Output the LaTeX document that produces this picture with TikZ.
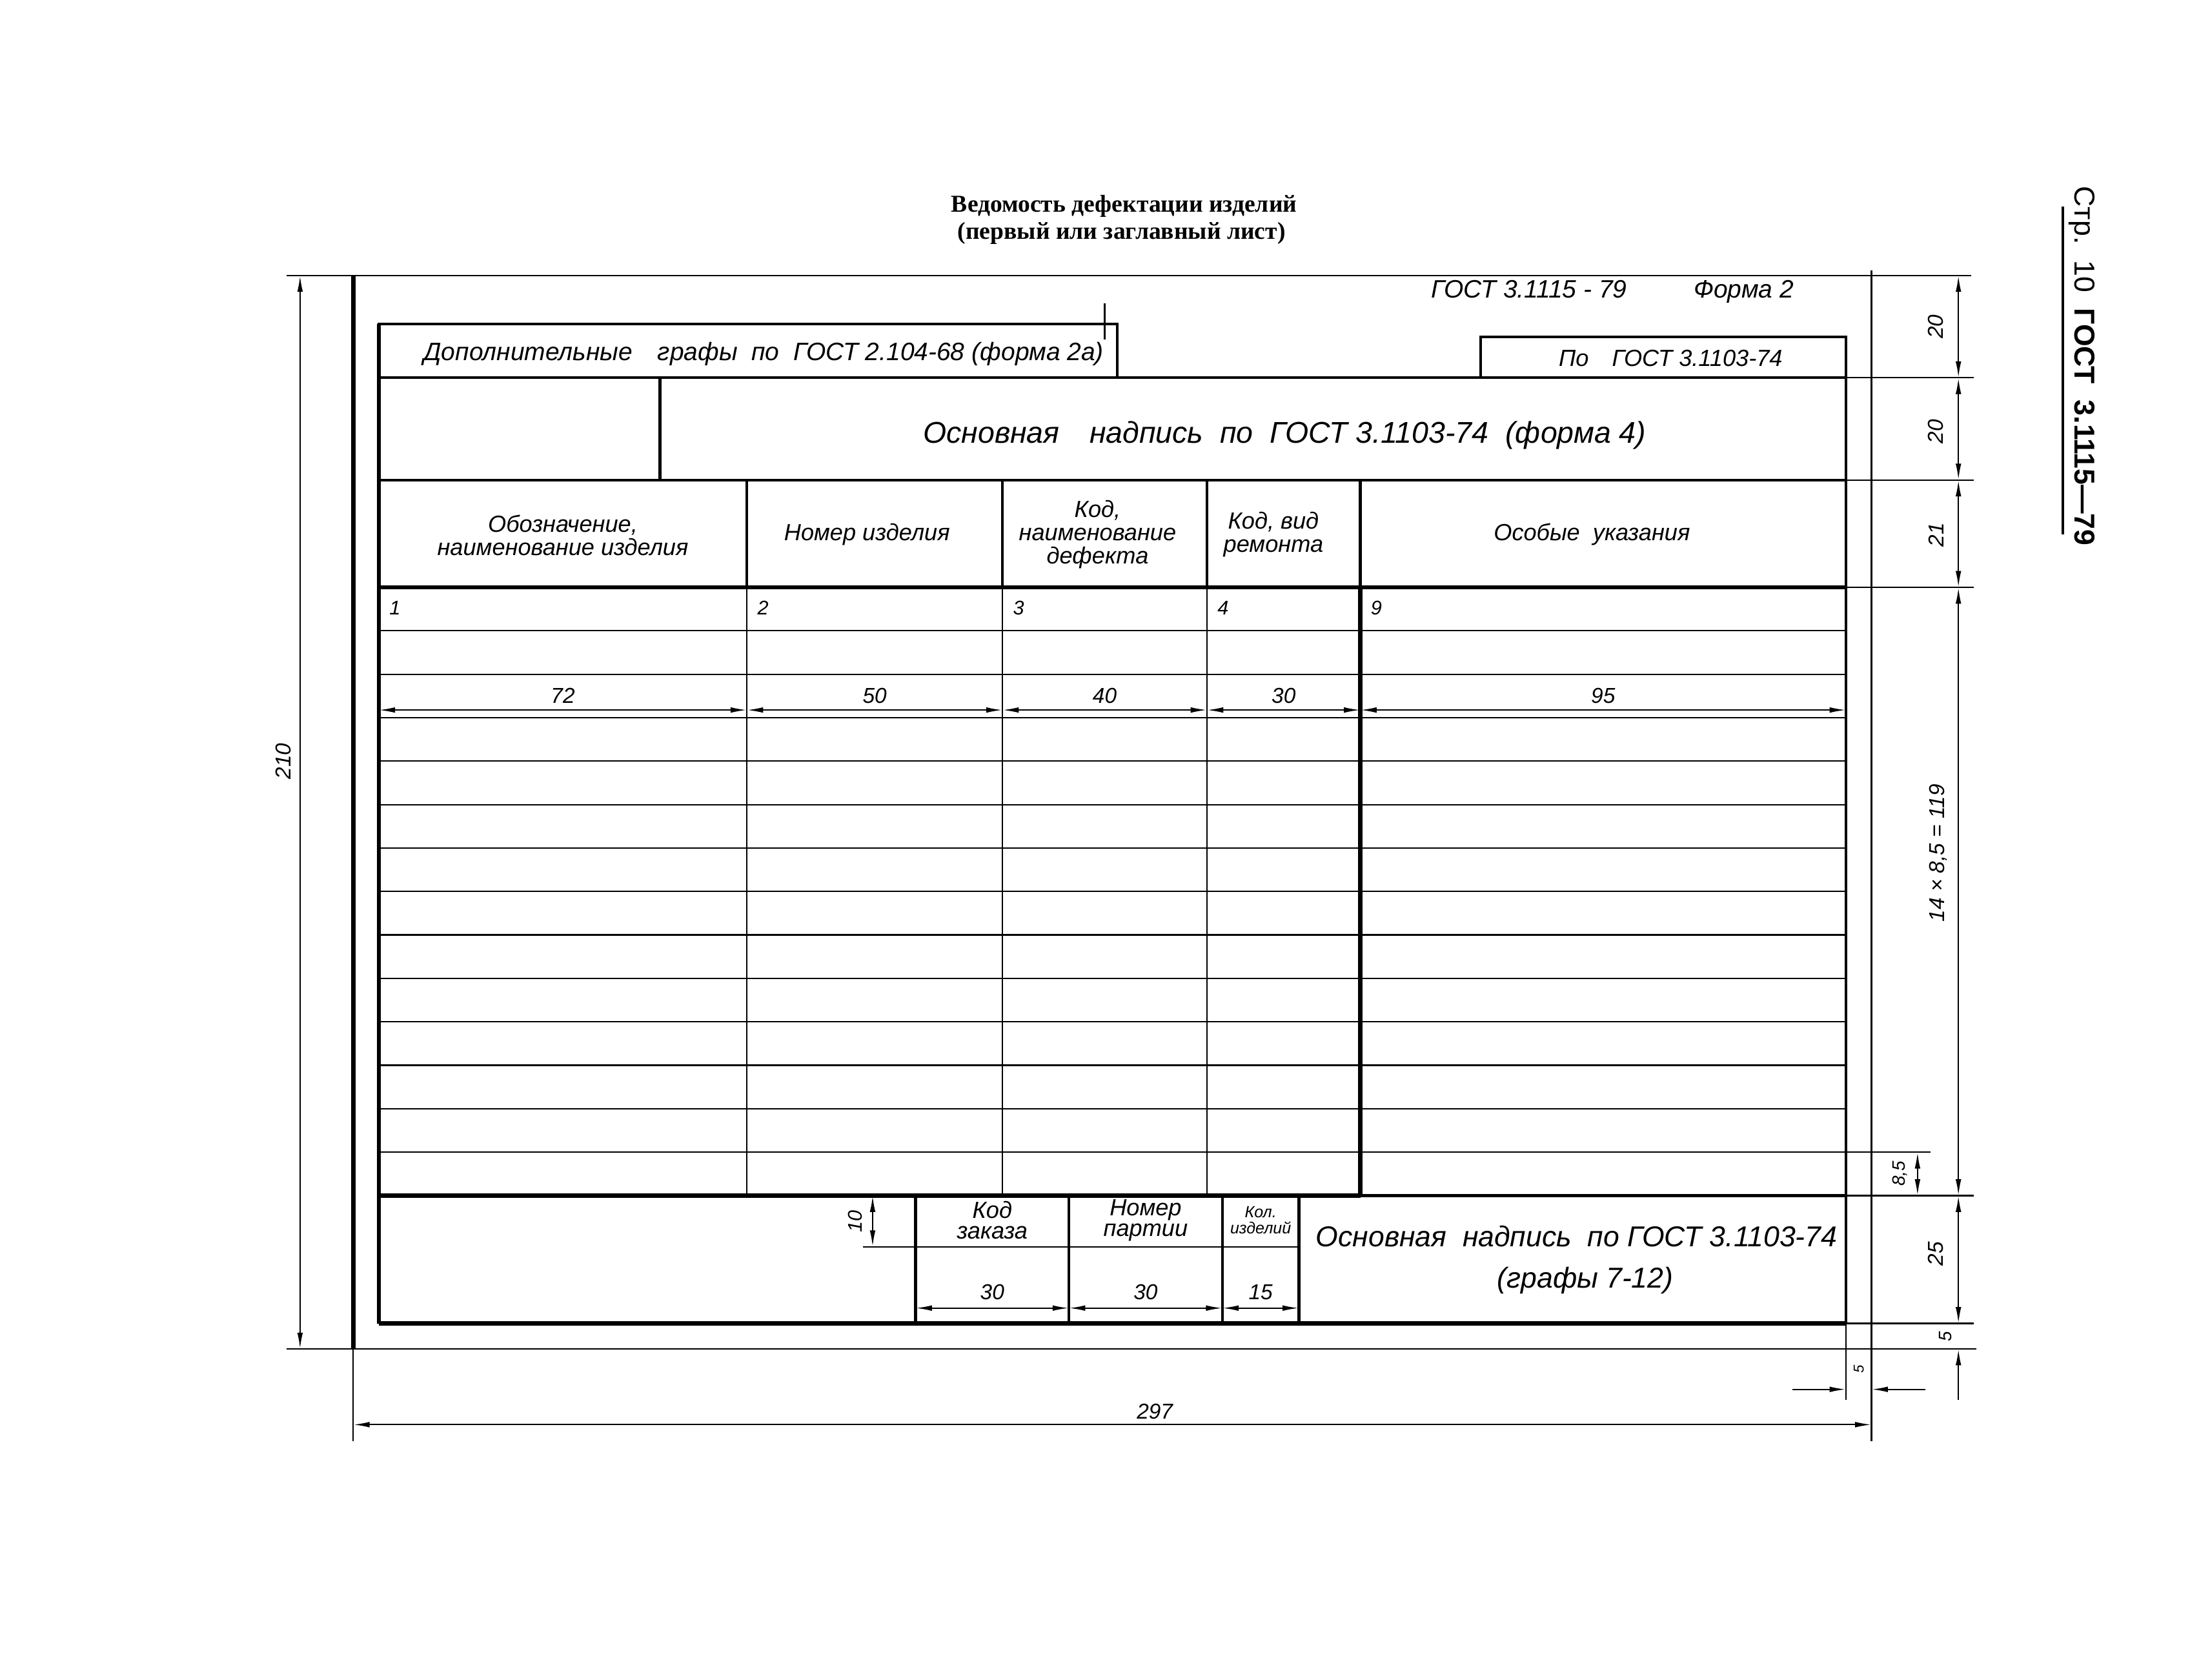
\documentclass[tikz,border=0pt]{standalone}
\usepackage{fontspec}
\setmainfont{Liberation Sans}
\newfontfamily\gostfont{Liberation Sans}
\newfontfamily\titlefont{Liberation Serif}
\usetikzlibrary{arrows.meta}

\tikzset{
  frm/.style={line width=0.8pt},
  med/.style={line width=1.5pt},
  thk/.style={line width=2.4pt},
  dimline/.style={line width=0.8pt,<->},
  arr/.style={line width=0.8pt,->},
  lbl/.style={font=\gostfont\itshape\fontsize{#1}{#1}\selectfont,inner sep=0pt,align=center},
  lbl/.default=13.5,
  ttl/.style={font=\titlefont\bfseries\fontsize{13.5}{14}\selectfont,inner sep=0pt},
  pg/.style={font=\gostfont\fontsize{16}{16}\selectfont,inner sep=0pt}
}

\begin{document}
\begin{tikzpicture}[x=1mm,y=1mm,>={Latex[length=3.2mm,width=1.1mm]}]
\useasboundingbox (-69.1,-64.75) rectangle (359.3,263.9);

\node[ttl] (title1) at (150.8,223.5) {Ведомость дефектации изделий};
\node[ttl] (title2) at (150.3,218.3) {(первый или заглавный лист)};
\node[pg,rotate=-90] (pageno) at (338.2,192.3) {Стр.\ \ 10\ \ \textbf{ГОСТ\ \ 3.1115—79}};
\draw[med] (334.4,223.5) -- (334.4,159.3);

\draw[thk] (0,0) -- (0,210);
\draw[frm] (-13,210) -- (316.5,210);
\draw[frm] (-13,0) -- (317.5,0);
\draw[frm] (297,211) -- (297,-18);
\draw[frm] (0,0) -- (0,-18);

\draw[dimline] (-10.4,0) -- (-10.4,210);
\node[lbl=12,rotate=90] (d210) at (-13.7,115) {210};
\draw[dimline] (0,-14.8) -- (297,-14.8);
\node[lbl=12] (d297) at (156.8,-12.2) {297};

\foreach \y in {190,170,149,30,5} \draw[frm] (292,\y) -- (317,\y);
\draw[frm] (292,38.5) -- (308.5,38.5);
\draw[dimline] (314,210) -- (314,190);
\draw[dimline] (314,190) -- (314,170);
\draw[dimline] (314,170) -- (314,149);
\draw[dimline] (314,149) -- (314,30);
\draw[dimline] (314,30) -- (314,5);
\draw[arr] (314,-10) -- (314,0);
\node[lbl=12,rotate=90] (r20a) at (309.6,200) {20};
\node[lbl=12,rotate=90] (r20b) at (309.6,179.5) {20};
\node[lbl=12,rotate=90] (r21) at (309.6,159.3) {21};
\node[lbl=12,rotate=90] (r119) at (310,97) {14 × 8,5 = 119};
\node[lbl=12,rotate=90] (r25) at (309.6,18.6) {25};
\node[lbl=10,rotate=90] (r5) at (311.4,2.5) {5};
\draw[dimline] (306,30) -- (306,38.5);
\node[lbl=10,rotate=90] (r85) at (302.6,34.3) {8,5};
\draw[frm] (292,5) -- (292,-10);
\draw[arr] (281.5,-7.9) -- (292,-7.9);
\draw[arr] (307.5,-7.9) -- (297,-7.9);
\node[lbl=8,rotate=90] (b5) at (294.5,-4) {5};

\node[lbl=14,anchor=base] (gost) at (230,205.6) {ГОСТ\ 3.1115 - 79};
\node[lbl=14,anchor=base] (forma) at (272,205.6) {Форма 2};

\draw[med] (5,190) rectangle (149.5,200.5);
\draw[frm] (147,204.5) -- (147,197.5);
\node[lbl=14] (dop) at (80.3,194.6) {Дополнительные\quad графы\ \ по\ \ ГОСТ 2.104-68 (форма 2а)};
\draw[med] (220.5,190) rectangle (292,198);
\node[lbl=13] (pogost) at (257.7,193.8) {По\quad ГОСТ 3.1103-74};

\draw[med] (5,170) rectangle (292,190);
\draw[med] (60,170) -- (60,190);
\node[lbl=16.7] (osn) at (182.2,178.7) {Основная\quad надпись\ \ по\ \ ГОСТ 3.1103-74\ \ (форма 4)};

\draw[med] (5,149) rectangle (292,170);
\foreach \x in {77,127,167,197} \draw[med] (\x,149) -- (\x,170);
\node[lbl=13] (h1) at (41,159.2) {Обозначение,\\наименование изделия};
\node[lbl=13] (h2) at (100.5,159.3) {Номер изделия};
\node[lbl=13] (h3) at (145.6,159.3) {Код,\\наименование\\дефекта};
\node[lbl=13] (h4) at (180,159.3) {Код, вид\\ремонта};
\node[lbl=13] (h5) at (242.3,159.3) {Особые\ \ указания};

\foreach \k in {1,...,13} \draw[frm] (5,149-8.5*\k) -- (292,149-8.5*\k);
\foreach \x in {77,127,167} \draw[frm] (\x,149) -- (\x,30);
\draw[thk] (5,149) -- (292,149);
\draw[thk] (197,149) -- (197,30);
\draw[thk] (5,30) -- (197,30);
\draw[med] (197,30) -- (292,30);
\draw[med] (292,198) -- (292,5);
\draw[thk] (5,5) -- (292,5);
\draw[thk] (5,5) -- (5,200.5);

\node[lbl=11,anchor=west] (n1) at (7,145) {1};
\node[lbl=11,anchor=west] (n2) at (79,145) {2};
\node[lbl=11,anchor=west] (n3) at (129,145) {3};
\node[lbl=11,anchor=west] (n4) at (169,145) {4};
\node[lbl=11,anchor=west] (n9) at (199,145) {9};

\draw[dimline] (5,125) -- (77,125) node[lbl=12,midway,above=1.2mm] (w72) {72};
\draw[dimline] (77,125) -- (127,125) node[lbl=12,midway,above=1.2mm] (w50) {50};
\draw[dimline] (127,125) -- (167,125) node[lbl=12,midway,above=1.2mm] (w40) {40};
\draw[dimline] (167,125) -- (197,125) node[lbl=12,midway,above=1.2mm] (w30) {30};
\draw[dimline] (197,125) -- (292,125) node[lbl=12,midway,above=1.2mm] (w95) {95};

\foreach \x in {110,140,170,185} \draw[med] (\x,30) -- (\x,5);
\draw[frm] (99.7,20) -- (185,20);
\draw[dimline] (101.6,30) -- (101.6,20);
\node[lbl=11,rotate=90] (d10) at (98.2,25) {10};
\node[lbl=13] (kz) at (125,25.2) {Код\\[-1.5pt]заказа};
\node[lbl=13] (np) at (155,25.2) {Номер\\[-1.5pt]партии};
\node[lbl=9] (ki) at (177.5,25.2) {Кол.\\изделий};
\draw[dimline] (110,8) -- (140,8) node[lbl=12,midway,above=1.5mm] (w30a) {30};
\draw[dimline] (140,8) -- (170,8) node[lbl=12,midway,above=1.5mm] (w30b) {30};
\draw[dimline] (170,8) -- (185,8) node[lbl=12,midway,above=1.5mm] (w15) {15};
\node[lbl=16] (osn2) at (239.3,22) {Основная\ \ надпись\ \ по ГОСТ 3.1103-74};
\node[lbl=16] (osn3) at (241,13.4) {(графы 7-12)};
\end{tikzpicture}
\end{document}
